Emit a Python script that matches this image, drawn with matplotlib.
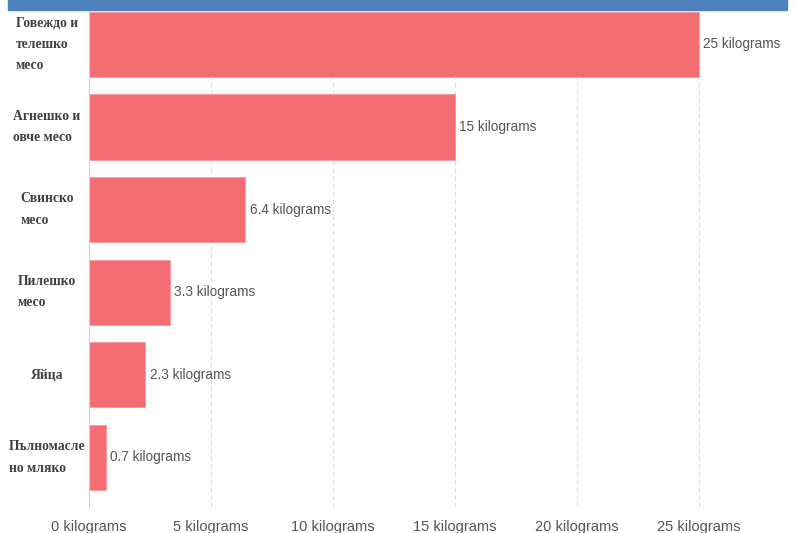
import matplotlib.pyplot as plt
from matplotlib.patches import Rectangle

categories = ["Говеждо и\nтелешко\nмесо", "Агнешко и\nовче месо", "Свинско\nмесо",
              "Пилешко\nмесо", "Яйца", "Пълномасле\nно мляко"]
values = [25, 15, 6.4, 3.3, 2.3, 0.7]
value_labels = ["25 kilograms", "15 kilograms", "6.4 kilograms", "3.3 kilograms",
                "2.3 kilograms", "0.7 kilograms"]
ticks = [0, 5, 10, 15, 20, 25]
tick_labels = [f"{t} kilograms" for t in ticks]

W, H = 795, 533
fig = plt.figure(figsize=(W / 100, H / 100), dpi=100)

# blue header strip at the top
fig.patches.append(Rectangle((8 / W, 1 - 10 / H), 779 / W, 10 / H,
                             transform=fig.transFigure, color="#4f81bd", zorder=0))

ax = fig.add_axes([89 / W, 1 - 507 / H, (787 - 89) / W, (507 - 11) / H])
y = list(range(len(categories)))
ax.barh(y, values, height=0.79, color="#f46d72", edgecolor="#f79a9d", linewidth=0.6, zorder=2)
ax.set_ylim(5.6, -0.405)
ax.set_xlim(0, (787 - 89) / 24.4)

for i, (v, lab) in enumerate(zip(values, value_labels)):
    ax.text(v + 0.18, i, lab, va="center", ha="left", fontsize=9.8,
            family="Liberation Sans", color="#555555", zorder=3)

ax.set_xticks(ticks)
ax.set_xticklabels(tick_labels, family="Liberation Sans", fontsize=10.5, color="#555555")
ax.tick_params(axis="x", length=0, pad=9)
ax.set_yticks([])
ax.grid(axis="x", color="#dddddd", linestyle=(0, (4, 3)), linewidth=0.8, zorder=1)
for s in ["top", "right", "bottom"]:
    ax.spines[s].set_visible(False)
ax.spines["left"].set_color("#d0d0d0")
ax.spines["left"].set_zorder(3)

# category labels on the left, drawn as centred blocks
for i, c in enumerate(categories):
    ax.text(-42 / 24.4, i, c, ha="center", va="center", multialignment="left",
            fontsize=9.8, family="Liberation Serif", fontweight="bold", color="#404040",
            linespacing=1.85)

fig.savefig("out.png", dpi=100)
